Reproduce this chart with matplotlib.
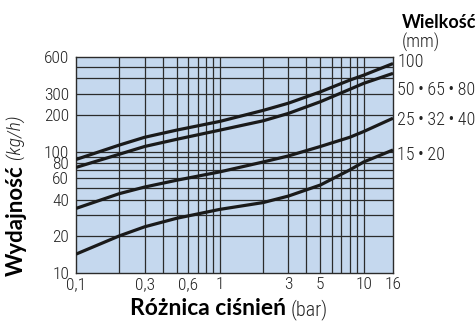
import numpy as np
import matplotlib
matplotlib.use("Agg")
import matplotlib.pyplot as plt

# Data
pressure = [0.1, 0.2, 0.3, 0.5, 1, 2, 3, 5, 8, 10, 16]
flow_100 = [86, 113, 131, 150, 177, 218, 250, 310, 387, 425, 530]
flow_50_80 = [74, 95, 110, 126, 150, 179, 206, 257, 325, 364, 440]
flow_25_40 = [34, 45, 51, 58, 68, 82, 92, 110, 131, 146, 188]
flow_15_20 = [14.3, 20.2, 24, 28.2, 33.4, 38, 43, 53, 70.5, 82, 103]

curves = [flow_100, flow_50_80, flow_25_40, flow_15_20]
curve_labels = ["100", "50\u2009•\u200965\u2009•\u200980",
                "25\u2009•\u200932\u2009•\u200940", "15\u2009•\u200920"]
label_levels = [546, 321, 182, 94]

xtick_vals = [0.1, 0.3, 0.6, 1, 3, 5, 10, 16]
xtick_labels = ["0,1", "0,3", "0,6", "1", "3", "5", "10", "16"]
ytick_vals = [10, 20, 40, 60, 80, 100, 200, 300, 600]
ytick_labels = ["10", "20", "40", "60", "80", "100", "200", "300", "600"]

grid_x = [0.2, 0.3, 0.4, 0.5, 0.6, 0.7, 0.8, 0.9, 1, 2, 3, 4, 5, 6, 7, 8, 9, 10]
grid_y = [20, 30, 40, 50, 60, 70, 80, 90, 100, 200, 300, 400, 500]

NUM_FONT = ["Roboto Condensed", "Liberation Sans Narrow", "Roboto", "DejaVu Sans"]
BOLD_FONT = ["Lato", "DejaVu Sans"]

fig = plt.figure(figsize=(4.77, 3.25), dpi=100)
ax = fig.add_axes([76 / 477, 1 - 273 / 325, 317 / 477, 216 / 325])
ax.set_facecolor("#c5d8ee")
ax.set_xscale("log")
ax.set_yscale("log")
ax.set_xlim(0.1, 16)
ax.set_ylim(10, 600)

for gx in grid_x:
    ax.axvline(gx, color="#2b2b2b", lw=0.9, zorder=1)
for gy in grid_y:
    ax.axhline(gy, color="#2b2b2b", lw=0.9, zorder=1)

for vals in curves:
    ax.plot(pressure, vals, color="#1a1a1a", lw=2.3, solid_capstyle="butt", zorder=3)

ax.set_xticks(xtick_vals)
ax.set_xticklabels(xtick_labels)
ax.set_yticks(ytick_vals)
ax.set_yticklabels(ytick_labels)
ax.minorticks_off()
ax.tick_params(length=0, labelsize=12.5, colors="#222222")
ax.tick_params(axis="x", pad=3)
ax.tick_params(axis="y", pad=5)
for lab in ax.get_xticklabels() + ax.get_yticklabels():
    lab.set_family(NUM_FONT)
    lab.set_weight("light")
for sp in ax.spines.values():
    sp.set_color("#2b2b2b")
    sp.set_linewidth(1.0)

# curve labels on the right
for lab, lev in zip(curve_labels, label_levels):
    ax.annotate(lab, xy=(1, lev), xycoords=ax.get_yaxis_transform(),
                xytext=(3, 0), textcoords="offset points", va="center",
                ha="left", fontsize=13, family=NUM_FONT, weight="light",
                color="#222222")

fig.text(402 / 477, 1 - 28 / 325, "Wielkość", fontsize=13, weight="bold",
         family=BOLD_FONT, va="baseline", ha="left")
fig.text(402 / 477, 1 - 48 / 325, "(mm)", fontsize=13, weight="light",
         family=NUM_FONT, va="baseline", ha="left", color="#222222")

# axis titles built from a bold part and a light part
xt1 = fig.text(130 / 477, 1 - 315 / 325, "Różnica ciśnień", fontsize=16.5,
               weight="bold", family=BOLD_FONT, va="baseline", ha="left")
yt1 = fig.text(27 / 477, 1 - 276 / 325, "Wydajność", fontsize=16,
               weight="bold", family=BOLD_FONT, rotation=90,
               va="bottom", ha="right")
fig.canvas.draw()
r = fig.canvas.get_renderer()
bb = xt1.get_window_extent(r)
fig.text((bb.x1 + 5) / fig.bbox.width, 1 - 315 / 325, "(bar)", fontsize=14.5,
         weight="light", family=NUM_FONT, va="baseline", ha="left", color="#222222")
bb = yt1.get_window_extent(r)
fig.text(25 / 477, (bb.y1 + 6) / fig.bbox.height, "(kg/h)", fontsize=14,
         weight="light", style="italic", family=NUM_FONT, rotation=90,
         va="bottom", ha="right", color="#222222")

fig.savefig("out.png", dpi=100)
